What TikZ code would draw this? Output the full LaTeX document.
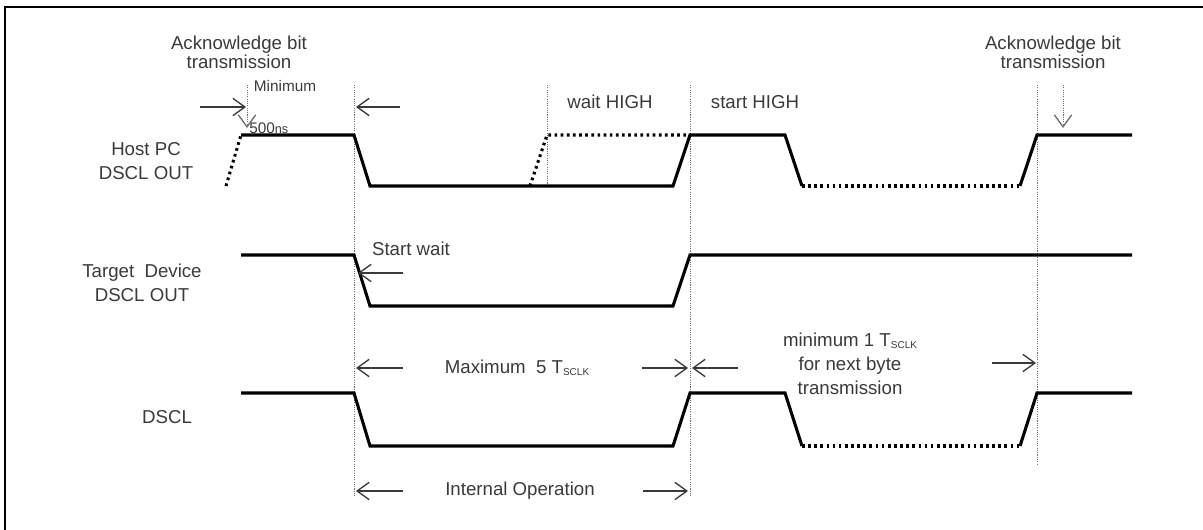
\documentclass[tikz,border=0pt]{standalone}
\usepackage{fontspec}
\setmainfont{Liberation Sans}
\usetikzlibrary{arrows.meta}
\definecolor{TextGray}{HTML}{3A3A3A}
\definecolor{GuideGray}{HTML}{6E6E6E}
\newcommand{\tsclk}{T\raisebox{-1.5pt}{\fontsize{7.5}{7.5}\selectfont SCLK}}

\begin{document}
\begin{tikzpicture}[
  x=0.75pt, y=-0.75pt,
  sig/.style={line width=2.3pt, black, line join=miter},
  sigdot/.style={sig, dash pattern=on 2pt off 2.6pt},
  guide/.style={line width=0.6pt, GuideGray, dash pattern=on 0.8pt off 0.9pt},
  arr/.style={-{Straight Barb[length=9pt, width=13pt, line width=1pt]},
              line width=1pt, TextGray},
  darr/.style={arr, guide},
  lbl/.style={font=\fontsize{14}{12}\selectfont, text=TextGray,
              align=center, inner sep=0pt},
  lblwide/.style={lbl, font=\fontsize{14}{18}\selectfont},
  lblsmall/.style={lbl, font=\fontsize{11.5}{11.5}\selectfont},
]
\useasboundingbox (0,0) rectangle (1203,530);

% frame
\draw[line width=1.5pt] (5,530) -- (5,7) -- (1203,7);

% guide lines
\draw[guide] (354,85) -- (354,497);
\draw[guide] (547,85) -- (547,186);
\draw[guide] (690,85) -- (690,497);
\draw[guide] (1037,85) -- (1037,465);

% Host PC DSCL OUT
\draw[sigdot] (226,186) -- (241,135);
\draw[sig] (241,135) -- (354,135) -- (370,186) -- (673,186) -- (690,135)
  -- (785,135) -- (802,186);
\draw[sigdot] (530,186) -- (547,135) -- (690,135);
\draw[sigdot] (802,186) -- (1020,186);
\draw[sig] (1020,186) -- (1037,135) -- (1132,135);

% Target Device DSCL OUT
\draw[sig] (241,255) -- (354,255) -- (370,306) -- (673,306) -- (690,255)
  -- (1132,255);

% DSCL
\draw[sig] (241,393) -- (354,393) -- (370,446) -- (673,446) -- (690,393)
  -- (785,393) -- (802,446);
\draw[sigdot] (802,446) -- (1020,446);
\draw[sig] (1020,446) -- (1037,393) -- (1132,393);

% labels
\node[lbl] (ackL) at (239,52) {Acknowledge bit\\transmission};
\node[lbl] (ackR) at (1053,52) {Acknowledge bit\\transmission};
\node[lblsmall] (minL) at (285,86) {Minimum};
\node[lblsmall, anchor=south west] (nsL) at (249,134)
  {500{\fontsize{9.5}{9.5}\selectfont ns}};
\node[lbl] (waitH) at (610,102) {wait HIGH};
\node[lbl] (startH) at (755,102) {start HIGH};
\node[lblwide] (host) at (146,161) {Host PC\\DSCL OUT};
\node[lblwide] (target) at (142,283) {Target\ \ Device\\DSCL OUT};
\node[lbl] (dscl) at (167,417) {DSCL};
\node[lbl] (startW) at (411,249) {Start wait};
\node[lbl] (maxT) at (517,368) {Maximum\ \ 5 \tsclk};
\node[lblwide] (minT) at (850,364)
  {minimum 1 \tsclk\\for next byte\\transmission};
\node[lbl] (intOp) at (520,491) {Internal Operation};

% arrows
\draw[darr] (247,85) -- (247,128);
\draw[darr] (1063,85) -- (1063,128);
\draw[arr] (200,107) -- (246,107);
\draw[arr] (400,107) -- (356,107);
\draw[arr] (403,273) -- (358,273);
\draw[arr] (403,368) -- (356,368);
\draw[arr] (642,368) -- (688,368);
\draw[arr] (738,368) -- (692,368);
\draw[arr] (992,363) -- (1036,363);
\draw[arr] (403,491) -- (356,491);
\draw[arr] (643,491) -- (688,491);

\end{tikzpicture}
\end{document}
